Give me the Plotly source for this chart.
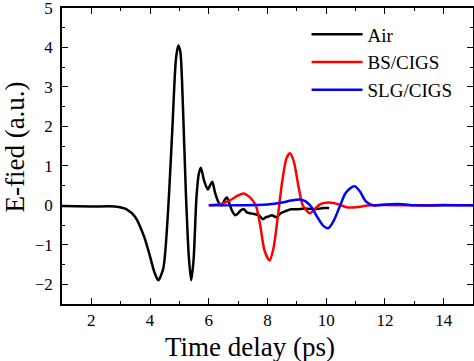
import plotly.graph_objects as go

air_x = [1.0,2.0,2.8,3.2,3.5,3.8,4.0,4.15,4.28,4.45,4.6,4.75,4.88,4.96,5.03,5.12,5.22,5.32,5.4,5.48,5.58,5.66,5.73,5.85,5.97,6.04,6.12,6.22,6.35,6.45,6.55,6.62,6.7,6.8,6.9,7.0,7.1,7.2,7.3,7.4,7.55,7.7,7.85,7.95,8.05,8.15,8.3,8.45,8.6,8.8,9.0,9.3,9.6,9.9,10.1]
air_y = [-0.02,-0.03,-0.03,-0.1,-0.3,-0.8,-1.3,-1.7,-1.9,-1.6,-0.3,1.8,3.7,4.05,3.9,2.5,0.3,-1.3,-1.9,-1.4,0.2,0.8,0.95,0.6,0.4,0.5,0.6,0.3,0.05,0.0,0.15,0.2,0.05,-0.15,-0.25,-0.2,-0.12,-0.1,-0.18,-0.2,-0.22,-0.25,-0.35,-0.3,-0.28,-0.25,-0.3,-0.2,-0.15,-0.1,-0.1,-0.08,-0.1,-0.07,-0.07]

bs_x = [6.0,6.4,6.7,7.0,7.18,7.4,7.6,7.75,7.9,8.07,8.2,8.35,8.5,8.65,8.77,8.9,9.05,9.2,9.35,9.45,9.6,9.8,10.1,10.4,10.7,11.0,11.5,12.0,13.0,14.0,15.0]
bs_y = [0,0.03,0.12,0.25,0.3,0.2,0,-0.5,-1.15,-1.4,-1.1,-0.3,0.6,1.2,1.32,1.1,0.5,0.0,-0.15,-0.2,-0.1,0.03,0.07,0.03,-0.05,-0.05,0,0.01,0,0.01,0.0]

slg_x = [6.0,7.0,8.0,8.5,8.8,9.1,9.3,9.5,9.7,9.9,10.07,10.25,10.45,10.65,10.85,10.98,11.15,11.35,11.6,11.8,12.2,12.6,13.0,14.0,15.0]
slg_y = [0,0,0.02,0.07,0.12,0.15,0.1,-0.05,-0.3,-0.52,-0.58,-0.4,-0.05,0.3,0.45,0.48,0.35,0.1,0.0,0.01,0.03,0.03,0,0,0]

x_title = "Time delay (ps)"
y_title = "E-fied (a.u.)"

series = [("Air", air_x, air_y, "black"),
          ("BS/CIGS", bs_x, bs_y, "#ff0000"),
          ("SLG/CIGS", slg_x, slg_y, "#0000ff")]

fig = go.Figure()
for name, xs, ys, col in series:
    fig.add_trace(go.Scatter(x=xs, y=ys, name=name, mode="lines",
                             line=dict(color=col, width=2.5, shape="spline", smoothing=0.7)))

font = "Liberation Serif"
axis_common = dict(showline=True, linecolor="black", linewidth=1.5, mirror="allticks",
                   ticks="inside", ticklen=6, tickwidth=1.2, tickcolor="black",
                   showgrid=False, zeroline=False, automargin=False,
                   ticklabeloverflow="allow",
                   tickfont=dict(family=font, size=17, color="black"))

fig.update_layout(
    template="none",
    width=474, height=361,
    margin=dict(l=62, r=1, t=8, b=57),
    paper_bgcolor="white", plot_bgcolor="white",
    font=dict(family=font, color="black"),
    showlegend=True,
    legend=dict(x=0.595, y=0.975, xanchor="left", yanchor="top", itemwidth=51,
                font=dict(family=font, size=19, color="black"),
                bgcolor="rgba(0,0,0,0)", tracegroupgap=0),
)
fig.update_xaxes(range=[1, 15], dtick=2, tick0=0,
                 minor=dict(ticks="inside", ticklen=3, dtick=1, tick0=0, tickcolor="black"),
                 **axis_common)
fig.update_yaxes(range=[-2.5, 5], dtick=1, tick0=0, ticklabelstandoff=4,
                 minor=dict(ticks="inside", ticklen=3, dtick=0.5, tick0=0, tickcolor="black"),
                 **axis_common)

fig.add_annotation(text=x_title, xref="paper", yref="paper", x=0.457, y=-0.145,
                   xanchor="center", yanchor="middle", showarrow=False,
                   font=dict(family=font, size=27, color="black"))
fig.add_annotation(text=y_title, xref="paper", yref="paper", x=-0.114, y=0.529,
                   xanchor="center", yanchor="middle", showarrow=False, textangle=-90,
                   font=dict(family=font, size=27, color="black"))

fig.write_html("out.html", config={"displayModeBar": False},
               post_script="document.body.style.margin='0';document.body.style.overflow='hidden';")
